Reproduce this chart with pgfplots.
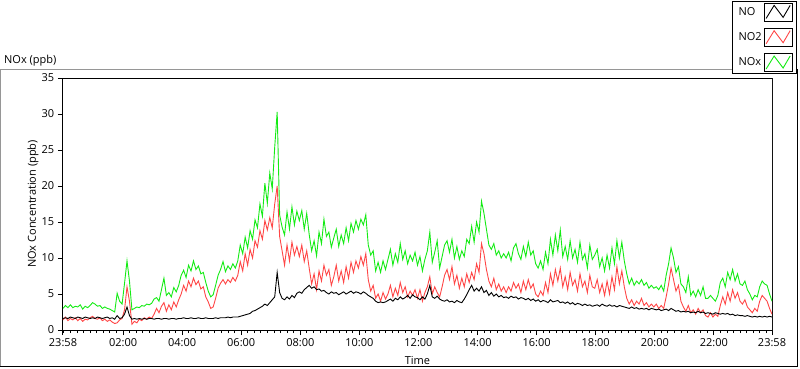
\documentclass[border=0pt]{standalone}
\usepackage{fontspec}
\setmainfont{Open Sans}
\usepackage{pgfplots}
\usepackage{pgfplotstable}
\pgfplotsset{compat=1.18}
\definecolor{noxg}{RGB}{20,235,20}
\definecolor{notwo}{RGB}{255,70,70}
\definecolor{framegray}{RGB}{150,150,150}

\pgfplotstableread{
t NO NO2 NOx
0 1.6 1.4 3.0
5 1.7 1.8 3.4
10 1.6 1.3 3.1
15 1.8 1.6 3.5
20 1.7 1.4 3.1
25 1.6 1.7 3.3
30 1.8 1.3 3.2
35 1.7 1.6 3.5
40 1.6 1.2 2.9
45 1.8 1.5 3.3
50 1.7 1.4 3.1
55 1.6 1.7 3.4
60 1.7 1.9 3.8
65 1.6 1.6 3.6
70 1.8 1.5 3.3
75 1.7 1.7 3.4
80 1.6 1.3 3.0
85 1.7 1.5 3.2
90 1.8 1.2 3.0
95 1.6 1.4 2.9
100 1.7 1.1 2.7
105 1.5 0.9 2.5
110 2.0 1.0 5.1
115 1.6 1.4 4.0
120 1.7 1.6 3.6
125 2.2 2.8 6.5
130 3.2 6.0 9.6
135 2.0 4.0 6.8
140 1.5 0.8 2.8
145 1.6 1.2 3.0
150 1.5 1.0 3.2
155 1.6 1.5 3.1
160 1.5 1.3 3.4
165 1.6 1.7 3.3
170 1.5 1.5 3.6
175 1.6 1.8 3.5
180 1.6 1.6 3.7
185 1.5 2.2 4.3
190 1.6 3.0 4.5
195 1.6 2.4 4.0
200 1.5 3.3 5.6
205 1.6 3.8 7.2
210 1.6 2.6 4.8
215 1.5 3.5 5.2
220 1.6 2.8 4.6
225 1.6 3.9 5.9
230 1.5 3.2 5.3
235 1.6 4.2 6.2
240 1.6 5.0 7.6
245 1.7 6.2 8.3
250 1.6 5.4 7.3
255 1.6 6.8 9.0
260 1.7 6.0 8.2
265 1.6 7.2 9.6
270 1.6 6.3 8.4
275 1.7 6.8 8.9
280 1.6 5.7 7.8
285 1.6 6.0 8.0
290 1.7 4.6 6.6
295 1.6 3.9 5.4
300 1.6 3.0 4.6
305 1.6 3.2 4.9
310 1.7 4.4 6.2
315 1.6 5.8 7.6
320 1.7 6.5 8.4
325 1.7 7.0 9.5
330 1.7 6.4 8.1
335 1.8 7.0 8.9
340 1.7 6.6 8.4
345 1.8 7.3 9.2
350 1.8 6.8 8.6
355 1.8 7.6 9.6
360 1.9 9.5 11.8
365 2.0 8.2 10.6
370 2.1 10.6 12.9
375 2.2 9.0 11.4
380 2.3 11.2 13.8
385 2.6 10.0 12.6
390 2.7 12.4 15.3
395 2.9 11.5 14.2
400 3.1 13.8 17.5
405 3.3 12.6 15.8
410 3.6 15.2 20.4
415 3.4 13.9 17.6
420 3.8 15.6 21.8
425 4.2 14.2 19.6
430 4.6 17.5 25.4
435 8.0 20.0 30.3
440 5.2 13.0 16.0
445 4.4 11.0 14.3
450 4.2 9.0 13.2
455 4.6 11.8 16.4
460 4.3 9.6 14.0
465 4.8 12.2 17.1
470 4.5 10.4 14.6
475 5.1 11.6 16.5
480 5.3 10.2 15.2
485 5.1 11.8 16.6
490 5.6 9.5 14.0
495 5.9 11.0 16.2
500 6.2 8.6 13.3
505 5.8 6.4 11.0
510 6.0 7.8 12.4
515 5.6 5.6 10.3
520 5.7 8.2 13.6
525 5.4 6.8 12.0
530 5.5 9.0 15.4
535 5.2 7.6 13.0
540 5.0 8.4 13.6
545 5.3 6.2 11.5
550 5.1 7.4 12.8
555 5.2 9.0 14.0
560 4.9 6.8 11.6
565 5.1 8.2 13.2
570 5.3 6.6 12.0
575 5.0 8.8 14.2
580 5.2 7.2 12.4
585 5.4 9.4 14.8
590 5.1 8.0 13.6
595 5.3 9.6 15.2
600 5.2 8.6 14.0
605 5.0 10.2 15.4
610 5.3 9.0 14.6
615 5.1 10.6 16.0
620 4.8 7.0 11.8
625 4.6 5.4 10.4
630 4.4 6.2 11.0
635 4.0 4.4 8.2
640 3.8 5.0 9.4
645 3.9 4.0 8.0
650 3.8 5.2 9.6
655 3.9 4.3 8.4
660 4.1 5.0 9.8
665 4.3 6.2 11.2
670 4.0 4.6 9.0
675 4.4 5.8 10.6
680 4.2 4.8 9.4
685 4.6 6.6 12.0
690 4.3 5.2 9.8
695 4.5 6.0 11.0
700 4.8 4.6 9.2
705 4.4 5.4 10.4
710 4.9 4.8 9.6
715 4.6 5.6 10.8
720 4.5 4.4 9.0
725 4.2 5.6 10.2
730 4.6 4.0 8.2
735 4.3 5.2 9.8
740 5.0 6.0 11.0
745 6.2 7.4 13.6
750 4.6 5.0 9.4
755 4.4 6.0 10.8
760 4.7 5.2 12.4
765 4.3 4.6 8.6
770 4.1 6.0 10.2
775 4.0 7.6 11.8
780 4.2 8.4 12.4
785 3.9 7.0 10.8
790 4.0 8.8 12.6
795 3.8 6.4 10.0
800 4.1 7.6 11.6
805 3.9 5.8 9.8
810 3.8 7.2 11.0
815 4.3 6.0 10.2
820 4.9 7.8 12.6
825 5.6 6.6 12.0
830 6.2 8.0 14.4
835 5.4 7.0 12.2
840 5.8 9.2 15.0
845 5.4 8.0 13.6
850 6.0 12.0 17.9
855 5.2 10.6 16.2
860 5.5 8.4 14.0
865 4.8 6.8 11.8
870 5.2 6.0 11.2
875 4.7 7.2 12.0
880 5.0 5.6 10.4
885 4.6 6.4 11.0
890 4.8 5.4 10.0
895 4.5 6.0 10.6
900 4.6 5.2 10.0
905 4.4 6.0 10.8
910 4.7 5.4 9.6
915 4.5 6.6 11.4
920 4.6 5.8 12.0
925 4.3 6.4 10.6
930 4.5 5.2 9.8
935 4.4 6.8 11.6
940 4.2 5.6 10.2
945 4.4 7.0 12.2
950 4.1 5.8 10.4
955 4.3 6.4 11.0
960 4.0 5.0 9.2
965 4.2 4.6 8.6
970 3.9 5.4 9.6
975 4.1 4.8 8.4
980 4.0 6.6 10.8
985 3.8 5.2 9.2
990 4.2 7.8 12.6
995 3.9 6.2 10.4
1000 4.0 8.4 13.2
1005 4.1 6.8 11.0
1010 3.8 8.6 13.9
1015 3.9 6.0 10.2
1020 3.7 7.4 11.6
1025 3.9 5.6 9.8
1030 3.6 8.0 12.4
1035 3.8 6.2 10.0
1040 3.5 7.0 11.2
1045 3.7 5.4 9.4
1050 3.6 7.8 12.2
1055 3.4 6.0 9.8
1060 3.6 6.8 10.6
1065 3.4 5.2 8.6
1070 3.5 7.6 11.8
1075 3.3 6.0 9.8
1080 3.4 5.8 10.4
1085 3.5 7.0 11.2
1090 3.3 5.2 8.8
1095 3.6 6.4 10.0
1100 3.4 4.8 8.2
1105 3.3 6.8 10.4
1110 3.5 5.0 8.6
1115 3.3 7.4 11.4
1120 3.4 5.6 9.2
1125 3.2 8.8 12.4
1130 3.4 6.4 10.0
1135 3.3 8.2 12.2
1140 3.2 6.0 9.6
1145 3.1 4.4 7.8
1150 3.0 3.6 6.4
1155 3.2 4.2 7.2
1160 3.0 3.4 6.2
1165 3.1 4.0 6.8
1170 2.9 3.6 6.4
1175 3.0 4.4 7.0
1180 2.9 3.4 6.2
1185 3.0 3.8 6.6
1190 2.8 3.2 5.8
1195 3.0 3.6 6.2
1200 2.9 3.2 5.8
1205 2.8 3.6 6.0
1210 2.9 3.0 5.6
1215 2.7 3.4 6.2
1220 2.8 3.0 5.4
1225 2.9 4.6 7.6
1230 2.7 6.4 9.2
1235 3.0 8.6 11.4
1240 2.8 7.0 10.0
1245 2.6 5.4 8.0
1250 2.7 6.2 8.8
1255 2.5 4.0 6.4
1260 2.6 3.2 6.0
1265 2.5 2.6 5.2
1270 2.6 3.4 7.4
1275 2.4 2.4 4.8
1280 2.5 2.8 5.4
1285 2.4 2.2 4.6
1290 2.6 3.0 5.6
1295 2.4 2.4 4.8
1300 2.5 2.8 6.0
1305 2.3 2.0 4.4
1310 2.4 1.8 4.4
1315 2.3 2.4 4.8
1320 2.2 1.8 4.4
1325 2.4 2.2 4.0
1330 2.3 1.9 4.8
1335 2.2 3.4 6.6
1340 2.3 4.6 7.2
1345 2.2 3.6 6.0
1350 2.3 5.2 8.0
1355 2.1 4.0 7.0
1360 2.2 5.6 8.4
1365 2.0 4.4 6.8
1370 2.1 5.2 7.8
1375 2.0 4.0 6.4
1380 2.0 3.6 6.2
1385 1.9 4.2 6.8
1390 2.0 3.2 5.6
1395 1.9 2.8 5.0
1400 1.8 2.4 4.2
1405 1.9 3.0 4.8
1410 1.8 2.6 4.6
1415 1.9 4.0 6.0
1420 1.8 4.8 6.8
1425 1.9 4.4 6.4
1430 1.8 4.0 6.2
1435 1.9 3.0 5.0
1440 1.8 2.2 4.0
}\data

\begin{document}
\fontsize{11bp}{13bp}\selectfont
\begin{tikzpicture}
\useasboundingbox (-63bp,-39bp) rectangle (737bp,330bp);
\draw[framegray, line width=1bp] (-62.5bp,-36.5bp) -- (-62.5bp,260.5bp) -- (734.5bp,260.5bp);
\draw[black, line width=1.5bp] (-62.5bp,-36.5bp) -- (734.5bp,-36.5bp) -- (734.5bp,260.5bp);
\node[anchor=base west, inner sep=0pt] at (-59bp,266bp) {NOx (ppb)};
\begin{axis}[
  scale only axis, width=709bp, height=252bp,
  xmin=0, xmax=1440, ymin=0, ymax=35,
  axis line style={line width=1bp},
  xtick={0,122,242,362,482,602,722,842,962,1082,1202,1322,1440},
  xticklabels={23:58,02:00,04:00,06:00,08:00,10:00,12:00,14:00,16:00,18:00,20:00,22:00,23:58},
  minor xtick={2,15.3333,...,1440},
  ytick={0,5,...,35},
  tick align=outside, tick pos=left,
  major tick length=5bp, minor tick length=3bp,
  tick style={black, line width=1bp},
  /pgf/number format/assume math mode=true,
  ticklabel style={font=\fontsize{11bp}{13bp}\selectfont},
  label style={font=\fontsize{11bp}{13bp}\selectfont},
  xlabel={Time}, ylabel={NOx Concentration (ppb)},
  xlabel style={at={(axis description cs:0.5,-0.123)}, anchor=center},
  ylabel style={at={(axis description cs:-0.0423,0.5)}, anchor=center},
  legend plot pos=right,
  legend cell align=left,
  legend style={at={(axis description cs:1.0353,1.3075)}, anchor=north east,
    draw=black, line width=1bp, fill=white, font=\fontsize{11bp}{13bp}\selectfont,
    row sep=6.5bp, inner xsep=4bp, inner ysep=1.5bp,
    /tikz/every even column/.append style={column sep=3bp}},
  legend image code/.code={
    \draw[black, line width=0.8bp, solid, fill=white] (0bp,-9bp) rectangle (28bp,9bp);
    \draw (2bp,-6.5bp) -- (10bp,6.5bp) -- (19bp,-5.5bp) -- (26bp,6.5bp);
  },
  no markers,
]
\addlegendimage{black, line width=0.9bp}
\addlegendentry{NO}
\addlegendimage{notwo, line width=0.9bp}
\addlegendentry{NO2}
\addlegendimage{noxg, line width=0.9bp}
\addlegendentry{NOx}
\addplot[noxg, line width=0.9bp, forget plot] table[x=t, y=NOx] {\data};
\addplot[notwo, line width=0.9bp, forget plot] table[x=t, y=NO2] {\data};
\addplot[black, line width=0.9bp, forget plot] table[x=t, y=NO] {\data};
\draw[framegray, line width=1bp] (rel axis cs:1,0) -- (rel axis cs:1,1);
\end{axis}
\end{tikzpicture}
\end{document}
